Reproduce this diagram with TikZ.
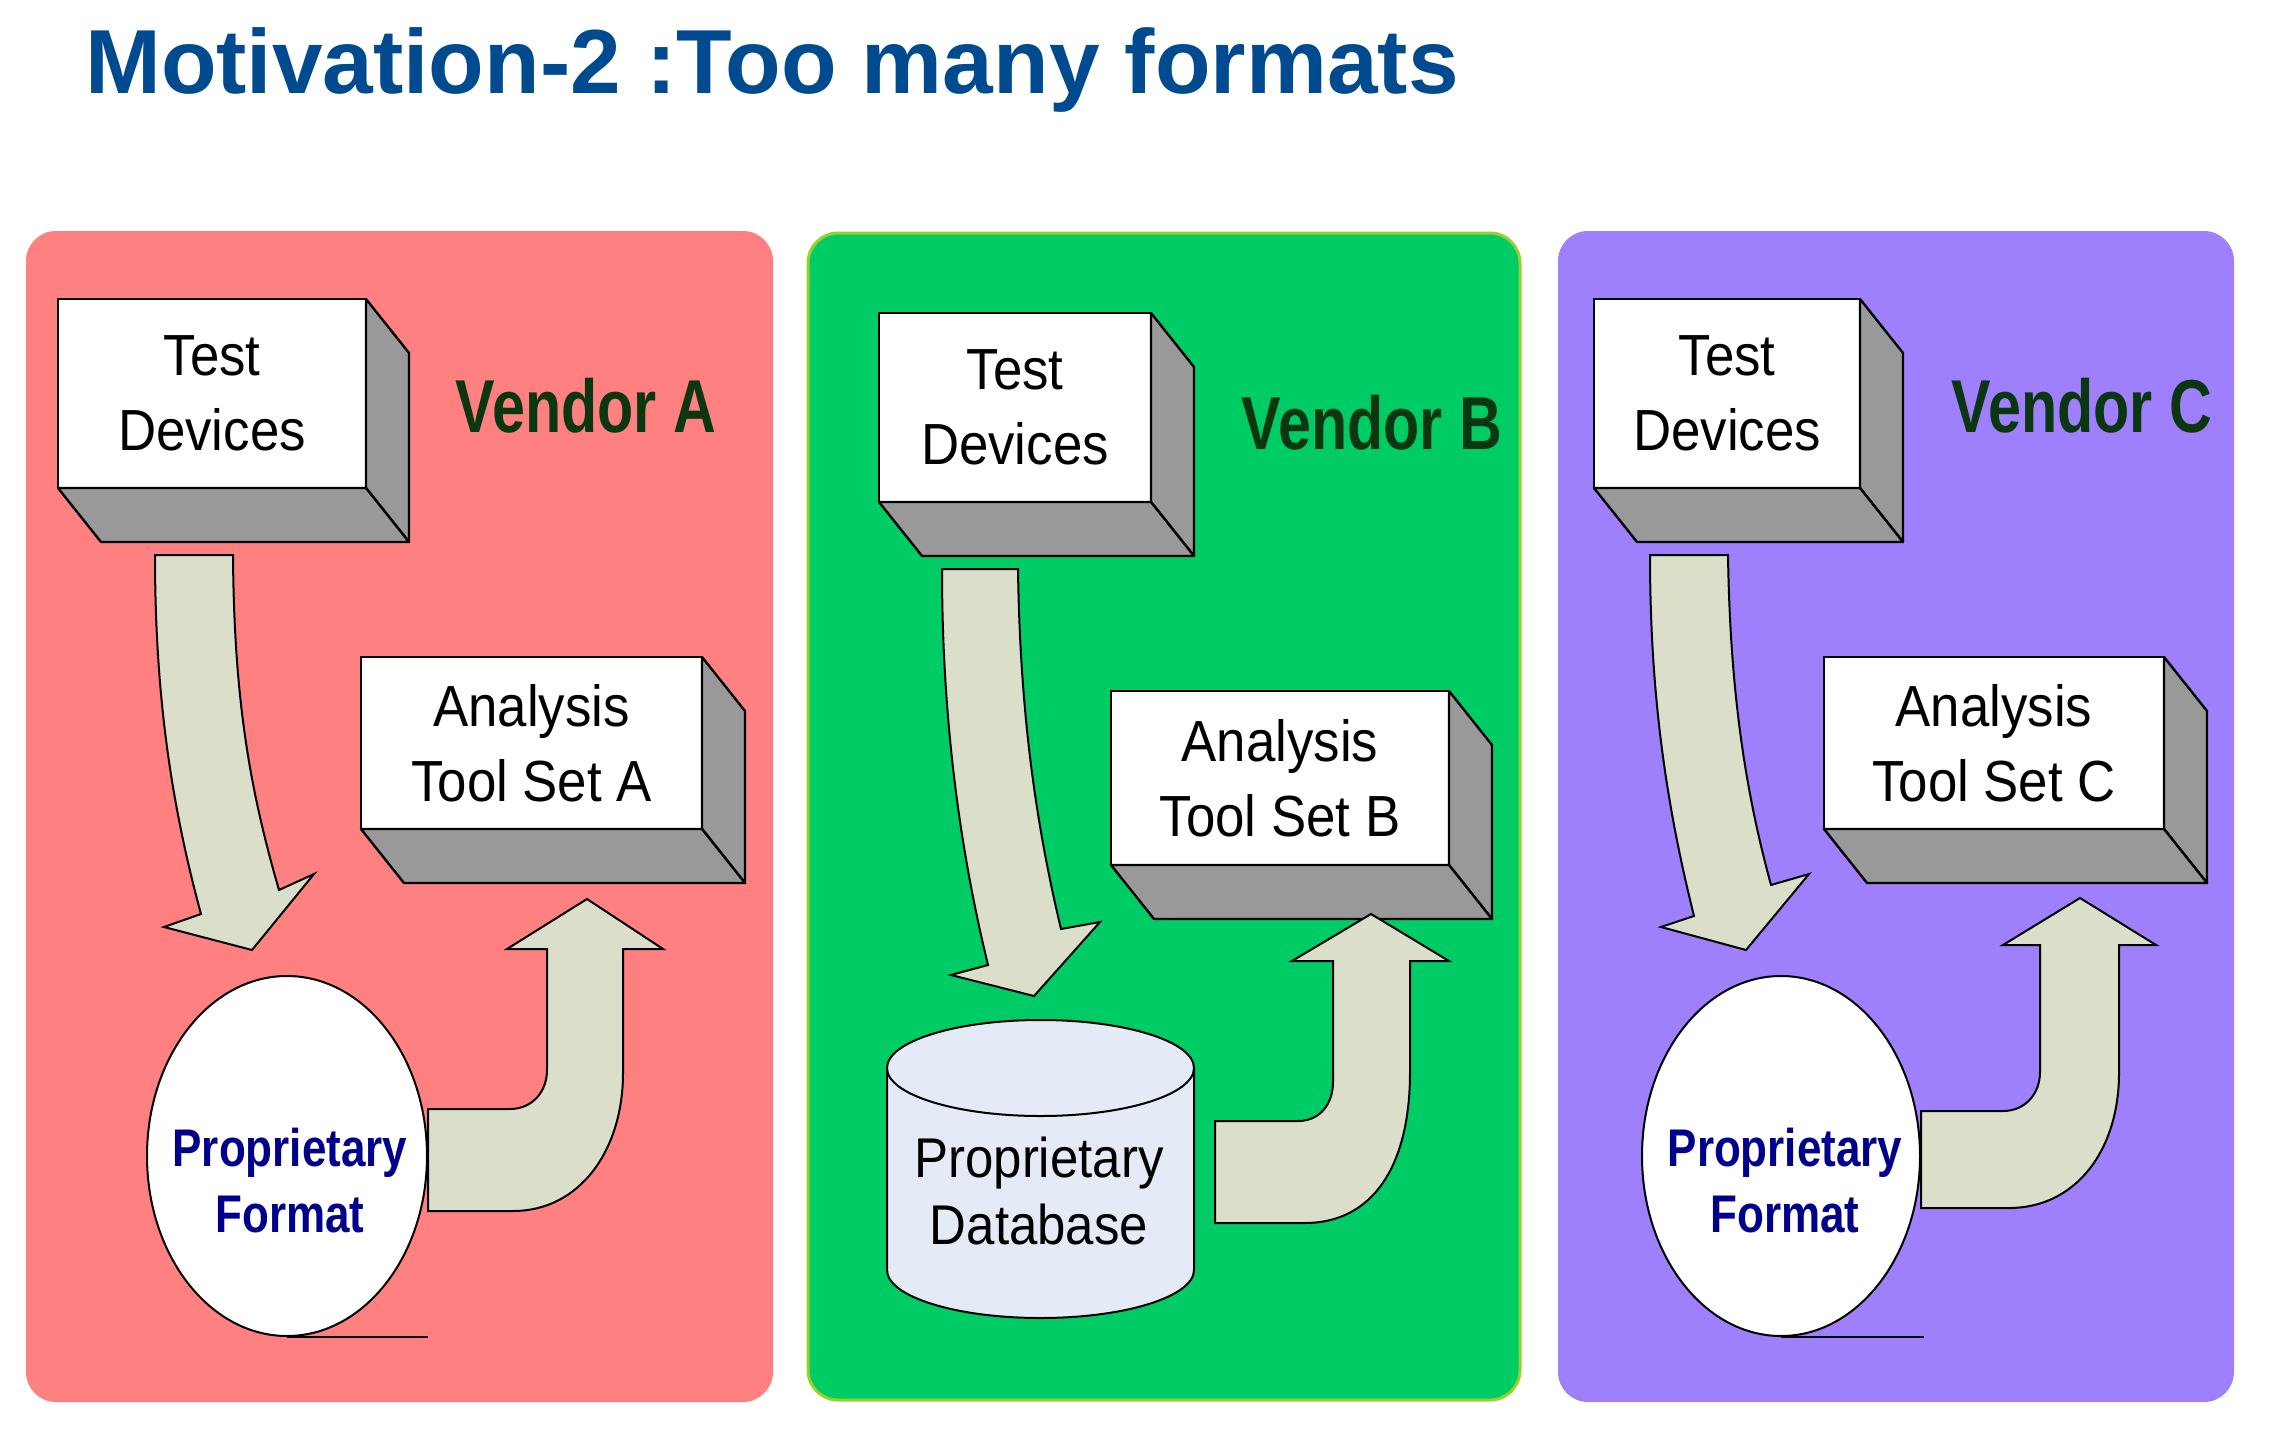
\documentclass[tikz,border=0pt]{standalone}
\usepackage{fontspec}
\setmainfont{Liberation Sans}
\newfontfamily\boxfont[FakeStretch=0.91]{Liberation Sans}
\newfontfamily\vendfont[FakeStretch=0.79]{Liberation Sans Bold}
\newfontfamily\propfont[FakeStretch=0.83]{Liberation Sans Bold}
\newfontfamily\titlefont{Liberation Sans Bold}
\usetikzlibrary{shapes.geometric}
\definecolor{panelA}{RGB}{255,128,128}
\definecolor{panelB}{RGB}{0,204,102}
\definecolor{panelBrim}{RGB}{150,210,40}
\definecolor{panelC}{RGB}{158,128,253}
\definecolor{arrowfill}{RGB}{219,223,201}
\definecolor{boxgray}{RGB}{153,153,153}
\definecolor{vendgreen}{RGB}{10,55,15}
\definecolor{propblue}{RGB}{0,0,140}
\definecolor{dbfill}{RGB}{228,234,246}
\definecolor{titleblue}{RGB}{0,74,143}
\newcommand{\cubebox}[6]{%
  \node[frontface, minimum width=#4pt, minimum height=#5pt] (#1) at (#2,#3) {#6};
  \draw[sideface] (#1.north east) -- ++(43,54) -- ++(0,#5) -- (#1.south east) -- cycle;
  \draw[sideface] (#1.south west) -- ++(43,54) -- ++(#4,0) -- (#1.south east) -- cycle;
}
\begin{document}
\begin{tikzpicture}[x=1pt,y=-1pt,
  panel/.style={rounded corners=30pt},
  frontface/.style={draw=black, fill=white, line width=2.4pt, rectangle, inner sep=0pt, outer sep=0pt, align=center, font={\boxfont\fontsize{58}{75}\selectfont}},
  sideface/.style={draw=black, fill=boxgray, line width=2.4pt, line join=round},
  flow/.style={draw=black, fill=arrowfill, line width=2pt, line join=miter},
  vendor/.style={font={\vendfont\fontsize{75}{90}\selectfont}, text=vendgreen, anchor=base, inner sep=0pt},
  prop/.style={font={\propfont\fontsize{53}{66}\selectfont}, text=propblue, align=center, inner sep=0pt},
  dbtext/.style={font={\boxfont\fontsize{56}{67}\selectfont}, text=black, align=center, inner sep=0pt},
  oval/.style={ellipse, draw=black, fill=white, line width=2pt, inner sep=0pt}]
\useasboundingbox (0,0) rectangle (2273,1437);
\fill[white] (0,0) rectangle (2273,1437);

% title
\node[anchor=base west, inner sep=0pt, text=titleblue, font={\titlefont\fontsize{91}{100}\selectfont}] (title) at (85,93) {Motivation-2 :Too many formats};

% panels
\fill[panel, panelA] (26,231) rectangle (773,1402);
\filldraw[panel, fill=panelB, draw=panelBrim, line width=3pt] (808,233) rectangle (1520,1400);
\fill[panel, panelC] (1558,231) rectangle (2234,1402);

% vendor labels
\node[vendor] (vA) at (586,432) {Vendor A};
\node[vendor] (vB) at (1372,449) {Vendor B};
\node[vendor] (vC) at (2082,432) {Vendor C};

% ---------- Vendor A ----------
\cubebox{testA}{212}{393.5}{308}{189}{Test\\Devices}
\cubebox{toolA}{531.5}{743}{341}{172}{Analysis\\Tool Set A}
\draw[flow] (155,555) -- (233,555) .. controls (234,700) and (250,790) .. (279,890)
  -- (314,874) -- (252,950) -- (164,927) -- (201,914)
  .. controls (170,800) and (155,690) .. (155,555) -- cycle;
\draw[flow] (428,1109) -- (510,1109) .. controls (532,1109) and (547,1092) .. (547,1070)
  -- (547,949) -- (507,949) -- (587,899) -- (663,949) -- (623,949) -- (623,1073)
  .. controls (623,1150) and (580,1211) .. (513,1211) -- (428,1211) -- cycle;
\node[oval, minimum width=280pt, minimum height=360pt] (fmtA) at (287,1156) {};
\node[prop] (fmtAt) at (290,1181) {Proprietary\\Format};
\coordinate (ulA) at (428,1337);
\draw[line width=2pt] (fmtA.south) -- (ulA);

% ---------- Vendor B ----------
\cubebox{testB}{1015}{407.5}{272}{189}{Test\\Devices}
\cubebox{toolB}{1280}{778}{338}{174}{Analysis\\Tool Set B}
\draw[flow] (942,569) -- (1018,569) .. controls (1020,710) and (1035,820) .. (1061,929)
  -- (1100,922) -- (1034,996) -- (951,975) -- (988,965)
  .. controls (960,850) and (942,720) .. (942,569) -- cycle;
\draw[flow] (1215,1121) -- (1298,1121) .. controls (1320,1121) and (1333,1104) .. (1333,1082)
  -- (1333,961) -- (1292,961) -- (1371,914) -- (1449,961) -- (1410,961) -- (1410,1072)
  .. controls (1410,1170) and (1370,1223) .. (1305,1223) -- (1215,1223) -- cycle;
\filldraw[fill=dbfill, draw=black, line width=2pt] (887,1068) -- (887,1270)
  arc[start angle=180, end angle=0, x radius=153.5, y radius=48] -- (1194,1068) -- cycle;
\filldraw[fill=dbfill, draw=black, line width=2pt] (1040.5,1068) ellipse [x radius=153.5, y radius=48];
\node[dbtext] (dbB) at (1039,1191) {Proprietary\\Database};

% ---------- Vendor C ----------
\cubebox{testC}{1727}{393.5}{266}{189}{Test\\Devices}
\cubebox{toolC}{1994}{743}{340}{172}{Analysis\\Tool Set C}
\draw[flow] (1650,555) -- (1728,555) .. controls (1730,690) and (1745,790) .. (1771,885)
  -- (1809,874) -- (1746,950) -- (1661,927) -- (1694,916)
  .. controls (1665,800) and (1650,690) .. (1650,555) -- cycle;
\draw[flow] (1921,1111) -- (2003,1111) .. controls (2025,1111) and (2040,1094) .. (2040,1072)
  -- (2040,945) -- (2003,945) -- (2080,898) -- (2156,945) -- (2119,945) -- (2119,1073)
  .. controls (2119,1150) and (2076,1208) .. (2009,1208) -- (1921,1208) -- cycle;
\node[oval, minimum width=278pt, minimum height=360pt] (fmtC) at (1781,1156) {};
\node[prop] (fmtCt) at (1785,1181) {Proprietary\\Format};
\coordinate (ulC) at (1924,1337);
\draw[line width=2pt] (fmtC.south) -- (ulC);
\end{tikzpicture}
\end{document}
